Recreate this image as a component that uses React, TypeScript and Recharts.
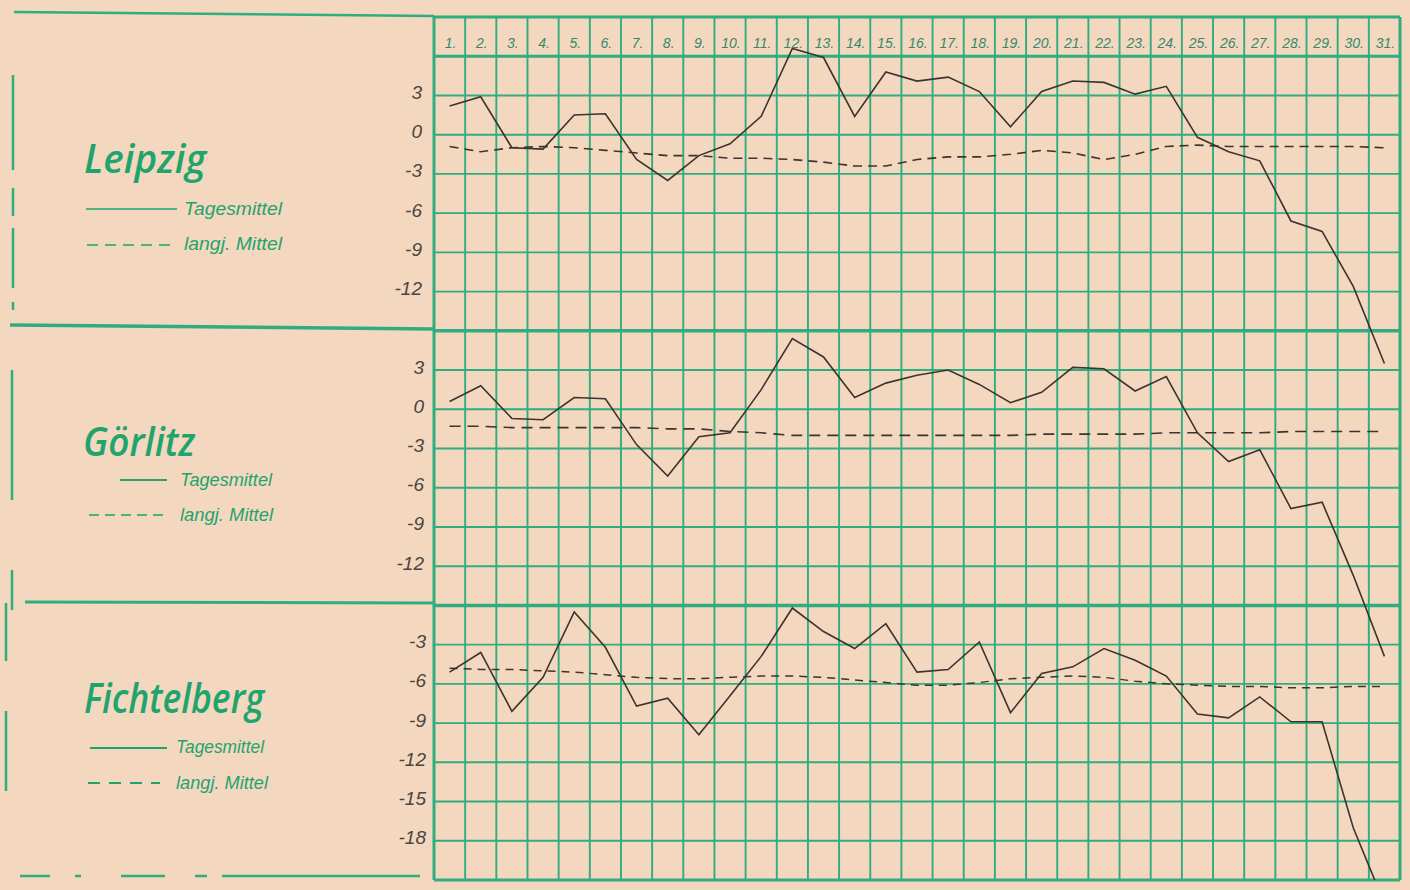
import React from 'react';
import { ComposedChart, Line, XAxis, YAxis, ReferenceLine } from 'recharts';

// ---------- data ----------
const days = [1, 2, 3, 4, 5, 6, 7, 8, 9, 10, 11, 12, 13, 14, 15, 16, 17, 18, 19, 20, 21, 22, 23, 24, 25, 26, 27, 28, 29, 30, 31];
const dayLabels = ['1.', '2.', '3.', '4.', '5.', '6.', '7.', '8.', '9.', '10.', '11.', '12.', '13.', '14.', '15.', '16.', '17.', '18.', '19.', '20.', '21.', '22.', '23.', '24.', '25.', '26.', '27.', '28.', '29.', '30.', '31.'];

const leipzigDaily = [2.2, 2.9, -1.0, -1.1, 1.5, 1.6, -1.9, -3.5, -1.6, -0.7, 1.4, 6.6, 5.9, 1.4, 4.8, 4.1, 4.4, 3.3, 0.6, 3.3, 4.1, 4.0, 3.1, 3.7, -0.2, -1.3, -2.0, -6.6, -7.4, -11.6, -17.5];
const leipzigNormal = [-0.9, -1.3, -1.0, -0.9, -1.0, -1.2, -1.4, -1.6, -1.6, -1.8, -1.8, -1.9, -2.1, -2.4, -2.4, -1.9, -1.7, -1.7, -1.5, -1.2, -1.4, -1.9, -1.5, -0.9, -0.8, -0.9, -0.9, -0.9, -0.9, -0.9, -1.0];

const goerlitzDaily = [0.6, 1.8, -0.7, -0.8, 0.9, 0.8, -2.7, -5.1, -2.1, -1.8, 1.5, 5.4, 4.0, 0.9, 2.0, 2.6, 3.0, 1.9, 0.5, 1.3, 3.2, 3.1, 1.4, 2.5, -1.8, -4.0, -3.1, -7.6, -7.1, -12.7, -18.9];
const goerlitzNormal = [-1.3, -1.3, -1.4, -1.4, -1.4, -1.4, -1.4, -1.5, -1.5, -1.7, -1.8, -2.0, -2.0, -2.0, -2.0, -2.0, -2.0, -2.0, -2.0, -1.9, -1.9, -1.9, -1.9, -1.8, -1.8, -1.8, -1.8, -1.7, -1.7, -1.7, -1.7];

const fichtelbergDaily = [-5.1, -3.6, -8.1, -5.5, -0.5, -3.2, -7.7, -7.1, -9.9, -6.9, -3.9, -0.2, -2.0, -3.3, -1.4, -5.1, -4.9, -2.8, -8.2, -5.2, -4.7, -3.3, -4.2, -5.4, -8.3, -8.6, -7.0, -8.9, -8.9, -17.0, -22.8];
const fichtelbergNormal = [-4.8, -4.9, -4.9, -5.0, -5.1, -5.3, -5.5, -5.6, -5.6, -5.5, -5.4, -5.4, -5.5, -5.7, -5.9, -6.1, -6.1, -5.9, -5.6, -5.5, -5.4, -5.5, -5.8, -6.0, -6.1, -6.2, -6.2, -6.3, -6.3, -6.2, -6.2];

// axis tick labels
const leipzigTicks = [3, 0, -3, -6, -9, -12];
const goerlitzTicks = [3, 0, -3, -6, -9, -12];
const fichtelbergTicks = [-3, -6, -9, -12, -15, -18];

// grid values (°C) per panel
const leipzigGrid = [3, 0, -3, -6, -9, -12];
const goerlitzGrid = [3, 0, -3, -6, -9, -12];
const fichtelbergGrid = [-3, -6, -9, -12, -15, -18];
const headerTop = 9; // Leipzig axis
const headerBottom = 6; // Leipzig axis
const goerlitzTop = 6; // Görlitz axis
const fichtelbergTop = 0; // Fichtelberg axis
const fichtelbergBottom = -21; // Fichtelberg axis

// axis domains: one shared plot area, each panel gets its own band
const leipzigDomain = [-57, 9];
const goerlitzDomain = [-36, 30];
const fichtelbergDomain = [-21, 45];
const dayDomain = [0.5, 31.5];

const rows = days.map((day, i) => ({
  day,
  leipzigDaily: leipzigDaily[i],
  leipzigNormal: leipzigNormal[i],
  goerlitzDaily: goerlitzDaily[i],
  goerlitzNormal: goerlitzNormal[i],
  fichtelbergDaily: fichtelbergDaily[i],
  fichtelbergNormal: fichtelbergNormal[i],
}));
const cellEdges = [0.5, ...days.map((d) => d + 0.5)];

// ---------- style ----------
const PAPER = '#f4d7bf';
const GRID = '#30ad7e';
const INK = '#3b3430';
const GREEN_TEXT = '#1fa46d';
const HAND = "'Liberation Sans Narrow', 'Liberation Sans', 'DejaVu Sans', sans-serif";

const YTick = (props: any) => {
  const { x, y, payload } = props;
  return (
    <text x={x} y={y} dy={-3} textAnchor="end" dominantBaseline="central" fontFamily="'Liberation Sans', sans-serif" fontStyle="italic" fontSize={19} fill="#4a4540">
      {payload.value}
    </text>
  );
};

const DayTick = (props: any) => {
  const { x, y, payload } = props;
  const label = dayLabels[days.indexOf(payload.value)];
  return (
    <text x={x + 1} y={y + 31} textAnchor="middle" fontFamily={HAND} fontStyle="italic" fontSize={14} fill="#35896a">
      {label}
    </text>
  );
};

const LeftPanel = () => (
  <svg width={434} height={890} style={{ position: 'absolute', left: 0, top: 0, pointerEvents: 'none' }}>
    {/* frame */}
    <line x1={14} y1={12} x2={434} y2={16} stroke={GRID} strokeWidth={2.5} />
    <line x1={13} y1={75} x2={13} y2={310} stroke={GRID} strokeWidth={2.5} strokeDasharray="95 18 28 12 60 14" />
    <line x1={12} y1={370} x2={12} y2={610} stroke={GRID} strokeWidth={2.5} strokeDasharray="130 70 40 20" />
    <line x1={6} y1={603} x2={6} y2={800} stroke={GRID} strokeWidth={2.5} strokeDasharray="58 50 80 30" />
    <line x1={10} y1={325} x2={434} y2={329} stroke={GRID} strokeWidth={3.5} />
    <line x1={25} y1={602} x2={434} y2={603} stroke={GRID} strokeWidth={3} />
    <line x1={20} y1={876} x2={420} y2={876} stroke={GRID} strokeWidth={2.5} strokeDasharray="30 25 6 40 44 30 12 15 300" />

    {/* Leipzig */}
    <text x={84} y={173} fontFamily="'Open Sans', 'DejaVu Sans', sans-serif" fontWeight={600} fontStyle="italic" fontSize={39} fill={GREEN_TEXT} textLength={122} lengthAdjust="spacingAndGlyphs">Leipzig</text>
    <line x1={86} y1={209} x2={177} y2={209} stroke={GREEN_TEXT} strokeWidth={1.6} />
    <text x={184} y={215} fontFamily={HAND} fontStyle="italic" fontSize={18} fill={GREEN_TEXT} textLength={98} lengthAdjust="spacingAndGlyphs">Tagesmittel</text>
    <line x1={87} y1={245} x2={177} y2={245} stroke={GREEN_TEXT} strokeWidth={1.6} strokeDasharray="11 7" />
    <text x={184} y={250} fontFamily={HAND} fontStyle="italic" fontSize={18} fill={GREEN_TEXT} textLength={98} lengthAdjust="spacingAndGlyphs">langj. Mittel</text>

    {/* Görlitz */}
    <text x={83} y={456} fontFamily="'Open Sans', 'DejaVu Sans', sans-serif" fontWeight={600} fontStyle="italic" fontSize={39} fill={GREEN_TEXT} textLength={112} lengthAdjust="spacingAndGlyphs">Görlitz</text>
    <line x1={120} y1={480} x2={167} y2={480} stroke={GREEN_TEXT} strokeWidth={1.8} />
    <text x={180} y={486} fontFamily={HAND} fontStyle="italic" fontSize={18} fill={GREEN_TEXT} textLength={92} lengthAdjust="spacingAndGlyphs">Tagesmittel</text>
    <line x1={89} y1={515} x2={167} y2={515} stroke={GREEN_TEXT} strokeWidth={1.6} strokeDasharray="10 6" />
    <text x={180} y={521} fontFamily={HAND} fontStyle="italic" fontSize={18} fill={GREEN_TEXT} textLength={93} lengthAdjust="spacingAndGlyphs">langj. Mittel</text>

    {/* Fichtelberg */}
    <text x={84} y={713} fontFamily="'Open Sans', 'DejaVu Sans', sans-serif" fontWeight={600} fontStyle="italic" fontSize={42} fill={GREEN_TEXT} textLength={180} lengthAdjust="spacingAndGlyphs">Fichtelberg</text>
    <line x1={90} y1={748} x2={167} y2={748} stroke={GREEN_TEXT} strokeWidth={1.8} />
    <text x={176} y={753} fontFamily={HAND} fontStyle="italic" fontSize={18} fill={GREEN_TEXT} textLength={88} lengthAdjust="spacingAndGlyphs">Tagesmittel</text>
    <line x1={88} y1={783} x2={160} y2={783} stroke={GREEN_TEXT} strokeWidth={1.8} strokeDasharray="12 9" />
    <text x={176} y={789} fontFamily={HAND} fontStyle="italic" fontSize={18} fill={GREEN_TEXT} textLength={92} lengthAdjust="spacingAndGlyphs">langj. Mittel</text>
  </svg>
);

export default function App() {
  const common = { xAxisId: 'd', ifOverflow: 'visible' as const };
  return (
    <div style={{ position: 'absolute', left: 0, top: 0, width: 1410, height: 890, background: PAPER, overflow: 'hidden' }}>
      <ComposedChart width={1410} height={890} data={rows} margin={{ top: 16, right: 10, bottom: 10, left: 431 }}>
        <XAxis xAxisId="d" type="number" dataKey="day" domain={dayDomain} ticks={days} orientation="top" height={1} axisLine={false} tickLine={false} tickSize={0} tickMargin={0} tick={<DayTick />} interval={0} allowDataOverflow />
        <YAxis yAxisId="L" type="number" domain={leipzigDomain} ticks={leipzigTicks} width={1} axisLine={false} tickLine={false} tickMargin={4} tick={<YTick />} interval={0} allowDataOverflow />
        <YAxis yAxisId="G" type="number" domain={goerlitzDomain} ticks={goerlitzTicks} width={1} axisLine={false} tickLine={false} tickMargin={3} tick={<YTick />} interval={0} allowDataOverflow />
        <YAxis yAxisId="F" type="number" domain={fichtelbergDomain} ticks={fichtelbergTicks} width={1} axisLine={false} tickLine={false} tickMargin={2} tick={<YTick />} interval={0} allowDataOverflow />

        {/* vertical grid */}
        {cellEdges.map((e, i) => (
          <ReferenceLine key={`v${i}`} {...common} yAxisId="L" x={e} stroke={GRID} strokeWidth={i === 0 || i === cellEdges.length - 1 ? 3 : 1.9} />
        ))}
        {/* horizontal grid */}
        {leipzigGrid.map((v) => (
          <ReferenceLine key={`l${v}`} {...common} yAxisId="L" y={v} stroke={GRID} strokeWidth={1.9} />
        ))}
        {goerlitzGrid.map((v) => (
          <ReferenceLine key={`g${v}`} {...common} yAxisId="G" y={v} stroke={GRID} strokeWidth={1.9} />
        ))}
        {fichtelbergGrid.map((v) => (
          <ReferenceLine key={`f${v}`} {...common} yAxisId="F" y={v} stroke={GRID} strokeWidth={1.9} />
        ))}
        <ReferenceLine {...common} yAxisId="L" y={headerTop} stroke={GRID} strokeWidth={3} />
        <ReferenceLine {...common} yAxisId="L" y={headerBottom} stroke={GRID} strokeWidth={3} />
        <ReferenceLine {...common} yAxisId="G" y={goerlitzTop} stroke={GRID} strokeWidth={3.5} />
        <ReferenceLine {...common} yAxisId="F" y={fichtelbergTop} stroke={GRID} strokeWidth={3.5} />
        <ReferenceLine {...common} yAxisId="F" y={fichtelbergBottom} stroke={GRID} strokeWidth={3} />

        <Line xAxisId="d" yAxisId="L" dataKey="leipzigNormal" stroke={INK} strokeWidth={1.6} strokeDasharray="9 6" dot={false} isAnimationActive={false} />
        <Line xAxisId="d" yAxisId="L" dataKey="leipzigDaily" stroke={INK} strokeWidth={1.6} dot={false} isAnimationActive={false} />
        <Line xAxisId="d" yAxisId="G" dataKey="goerlitzNormal" stroke={INK} strokeWidth={1.6} strokeDasharray="11 7" dot={false} isAnimationActive={false} />
        <Line xAxisId="d" yAxisId="G" dataKey="goerlitzDaily" stroke={INK} strokeWidth={1.6} dot={false} isAnimationActive={false} />
        <Line xAxisId="d" yAxisId="F" dataKey="fichtelbergNormal" stroke={INK} strokeWidth={1.5} strokeDasharray="8 6" dot={false} isAnimationActive={false} />
        <Line xAxisId="d" yAxisId="F" dataKey="fichtelbergDaily" stroke={INK} strokeWidth={1.6} dot={false} isAnimationActive={false} />
      </ComposedChart>
      <LeftPanel />
    </div>
  );
}
